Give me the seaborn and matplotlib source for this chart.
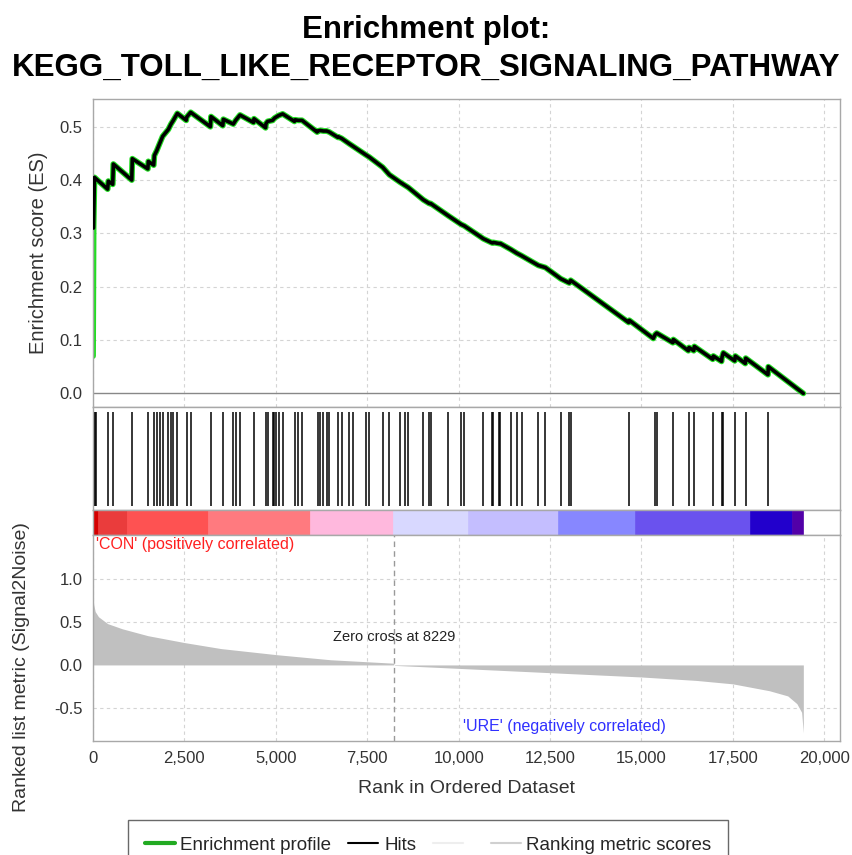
import numpy as np
import matplotlib
matplotlib.use("Agg")
import matplotlib.pyplot as plt
from matplotlib.lines import Line2D
from matplotlib.ticker import FuncFormatter, MultipleLocator
import seaborn as sns

# running enrichment score, vertices (rank, ES)
es_rank = [0, 15, 40, 400, 419, 540, 556, 1060, 1075, 1500, 1513, 1660, 1677, 1742,
           1832, 1905, 2060, 2133, 2197, 2306, 2550, 2562, 2671, 3210, 3227, 3550,
           3564, 3837, 3901, 4020, 4390, 4403, 4720, 4731, 4777, 4914, 4960, 5005,
           5078, 5187, 5510, 5525, 5616, 5716, 6130, 6145, 6209, 6300, 6391, 6464,
           6700, 6710, 6802, 7011, 7120, 7467, 7558, 7923, 8105, 8397, 8533, 8624,
           9034, 9198, 9235, 9718, 10065, 10156, 10675, 10921, 10948, 11104, 11140,
           11424, 11588, 11725, 12180, 12371, 12792, 13027, 13064, 14650, 14668,
           15324, 15371, 15417, 15860, 15872, 16282, 16301, 16430, 16446, 16950,
           16966, 17190, 17203, 17239, 17550, 17567, 17840, 17851, 18460, 18470,
           19427]
es_value = [0.07, 0.31, 0.405, 0.383, 0.398, 0.392, 0.430, 0.400, 0.440, 0.421, 0.435,
            0.428, 0.446, 0.455, 0.470, 0.482, 0.495, 0.505, 0.512, 0.525, 0.512,
            0.518, 0.527, 0.500, 0.519, 0.502, 0.514, 0.505, 0.512, 0.522, 0.508,
            0.515, 0.498, 0.506, 0.510, 0.512, 0.516, 0.518, 0.521, 0.524, 0.510,
            0.513, 0.512, 0.512, 0.490, 0.492, 0.493, 0.492, 0.492, 0.490, 0.480,
            0.481, 0.478, 0.468, 0.463, 0.447, 0.443, 0.424, 0.410, 0.396, 0.390,
            0.386, 0.363, 0.356, 0.356, 0.333, 0.317, 0.314, 0.290, 0.282, 0.283,
            0.281, 0.281, 0.270, 0.263, 0.258, 0.240, 0.236, 0.215, 0.207, 0.212,
            0.133, 0.137, 0.103, 0.110, 0.113, 0.095, 0.101, 0.080, 0.086, 0.080,
            0.088, 0.064, 0.070, 0.060, 0.068, 0.076, 0.061, 0.070, 0.056, 0.066,
            0.035, 0.050, 0.0]

# positions of gene set members in the ranked list
hits = [3, 12, 25, 48, 70, 419, 556, 1075, 1513, 1677, 1742, 1832, 1905, 2060, 2133,
        2197, 2306, 2562, 2671, 3227, 3564, 3837, 3901, 4020, 4403, 4731, 4777, 4914,
        4960, 5005, 5078, 5187, 5525, 5616, 5716, 6145, 6209, 6300, 6391, 6464, 6710,
        6802, 7011, 7120, 7467, 7558, 7923, 8105, 8397, 8533, 8624, 9034, 9198, 9235,
        9718, 10065, 10156, 10675, 10921, 10948, 11104, 11140, 11424, 11588, 11725,
        12180, 12371, 12792, 13027, 13064, 14668, 15371, 15417, 15872, 16301, 16446,
        16966, 17203, 17239, 17567, 17851, 18470]

# ranking metric (signal2noise), read at several ranks
metric_rank = [0, 20, 60, 150, 400, 800, 1500, 2500, 3500, 5000, 6500, 8229, 8230,
               9000, 10000, 11500, 12500, 14000, 15000, 16500, 17500, 18500, 19000,
               19250, 19380, 19427]
metric_value = [0.80, 0.70, 0.62, 0.56, 0.48, 0.42, 0.34, 0.26, 0.19, 0.12, 0.06,
                0.02, -0.005, -0.02, -0.04, -0.07, -0.09, -0.12, -0.14, -0.18, -0.22,
                -0.30, -0.36, -0.45, -0.55, -0.79]

# heat bar bands along the ranked list
band_edges = [0, 150, 920, 3150, 5935, 8215, 10265, 12727, 14824, 17969, 19108, 19427]
band_colors = ['#d40000', '#ea3c3c', '#fe5252', '#ff7a7f', '#ffb8dd', '#d8d8ff',
               '#c4beff', '#8787ff', '#6a52ee', '#2200cc', '#5200a8']

zero_cross = 8229
x_ticks = [0, 2500, 5000, 7500, 10000, 12500, 15000, 17500, 20000]

sns.set_theme(style="white")
plt.rcParams['font.family'] = ['Liberation Sans', 'DejaVu Sans']

W, H = 853, 855
fig = plt.figure(figsize=(W / 100, H / 100), dpi=100)

def box(top, bottom):
    return [93 / W, 1 - bottom / H, (840 - 93) / W, (bottom - top) / H]

ax_es = fig.add_axes(box(99, 406.7))
ax_hit = fig.add_axes(box(406.7, 510))
ax_bar = fig.add_axes(box(510, 535))
ax_rank = fig.add_axes(box(535, 741))

frame = '#a8a8a8'
grid_kw = dict(color='#d4d4d4', linestyle=(0, (3, 3)), linewidth=0.8)
xmax = 20430

for ax in (ax_es, ax_hit, ax_bar, ax_rank):
    ax.set_xlim(0, xmax)
    for s in ax.spines.values():
        s.set_color(frame)
        s.set_linewidth(1.0)
    ax.tick_params(colors='#333333', labelsize=12, length=4, width=0.8,
                   direction='out', color=frame)

# --- enrichment profile
for x in x_ticks:
    ax_es.axvline(x, **grid_kw, zorder=0)
for y in np.arange(0.1, 0.51, 0.1):
    ax_es.axhline(y, **grid_kw, zorder=0)
ax_es.axhline(0, color='#888888', linewidth=1.0, zorder=1)
sns.lineplot(x=es_rank, y=es_value, ax=ax_es, color='#22dd22', linewidth=4.2,
             sort=False, estimator=None, zorder=2)
sns.lineplot(x=es_rank[1:], y=es_value[1:], ax=ax_es, color='black', linewidth=2.6,
             sort=False, estimator=None, zorder=3)
ax_es.set_ylim(-0.025, 0.552)
ax_es.yaxis.set_major_locator(MultipleLocator(0.1))
ax_es.yaxis.set_major_formatter(FuncFormatter(lambda v, p: f"{v:.1f}"))
ax_es.set_xticks(x_ticks)
ax_es.tick_params(axis='x', labelbottom=False, length=0)
ax_es.set_ylabel("Enrichment score (ES)", fontsize=14.5, color='#333333', labelpad=8)

# --- hits
ax_hit.vlines(hits, 0.04, 1.0, color='black', linewidth=1.1)
ax_hit.set_ylim(0, 1.05)
ax_hit.set_xticks([])
ax_hit.set_yticks([])

# --- heat bar
ax_bar.broken_barh([(band_edges[i], band_edges[i + 1] - band_edges[i])
                    for i in range(len(band_colors))], (0, 1), facecolors=band_colors,
                   edgecolors=band_colors, linewidth=0.5)
ax_bar.set_ylim(0, 1)
ax_bar.set_xticks([])
ax_bar.set_yticks([])

# --- ranked list metric
for x in x_ticks:
    ax_rank.axvline(x, **grid_kw, zorder=0)
for y in [-0.5, 0.5, 1.0]:
    ax_rank.axhline(y, **grid_kw, zorder=0)
ax_rank.fill_between(metric_rank, 0, metric_value, color='#c0c0c0', linewidth=0,
                     zorder=1)
ax_rank.set_ylim(-0.884, 1.51)
ax_rank.set_yticks([-0.5, 0.0, 0.5, 1.0])
ax_rank.yaxis.set_major_formatter(FuncFormatter(lambda v, p: f"{v:.1f}"))
ax_rank.set_xticks(x_ticks)
ax_rank.xaxis.set_major_formatter(FuncFormatter(lambda v, p: f"{int(v):,}"))
ax_rank.axvline(zero_cross, color='#999999', linestyle=(0, (4, 3)), linewidth=1.0,
                zorder=2)
ax_rank.text(zero_cross, 0.33, f"Zero cross at {zero_cross}", ha='center',
             va='center', fontsize=10.5, color='#222222')
ax_rank.text(80, 1.49, "'CON' (positively correlated)", ha='left', va='top',
             fontsize=11.5, color='#ff2020')
ax_rank.text(10120, -0.72, "'URE' (negatively correlated)", ha='left', va='center',
             fontsize=11.5, color='#3030ff')
ax_rank.set_xlabel("Rank in Ordered Dataset", fontsize=14, color='#333333', labelpad=10)
ax_rank.set_ylabel("Ranked list metric (Signal2Noise)", fontsize=14, color='#333333',
                   labelpad=8)
ax_rank.yaxis.set_label_coords(-0.085, 0.36)

fig.text(0.5, 1 - 30 / H, "Enrichment plot:", ha='center', va='center',
         fontsize=22.5, fontweight='bold', color='black')
fig.text(0.5, 1 - 68 / H, "KEGG_TOLL_LIKE_RECEPTOR_SIGNALING_PATHWAY", ha='center',
         va='center', fontsize=22.5, fontweight='bold', color='black')

handles = [Line2D([], [], color='#22aa22', linewidth=3),
           Line2D([], [], color='black', linewidth=1.5),
           Line2D([], [], color='#eeeeee', linewidth=1.5),
           Line2D([], [], color='#d0d0d0', linewidth=1.5)]
labels = ["Enrichment profile", "Hits", " ", "Ranking metric scores"]
leg = fig.legend(handles, labels, loc='upper left', bbox_to_anchor=(128 / W, 1 - 820 / H),
                 ncol=4, fontsize=13.5, frameon=True, fancybox=False, borderpad=0.9,
                 borderaxespad=0, handlelength=1.6, handletextpad=0.3,
                 columnspacing=0.9)
leg.get_frame().set_edgecolor('#444444')
leg.get_frame().set_linewidth(1.0)

fig.savefig("out.png", dpi=100)
